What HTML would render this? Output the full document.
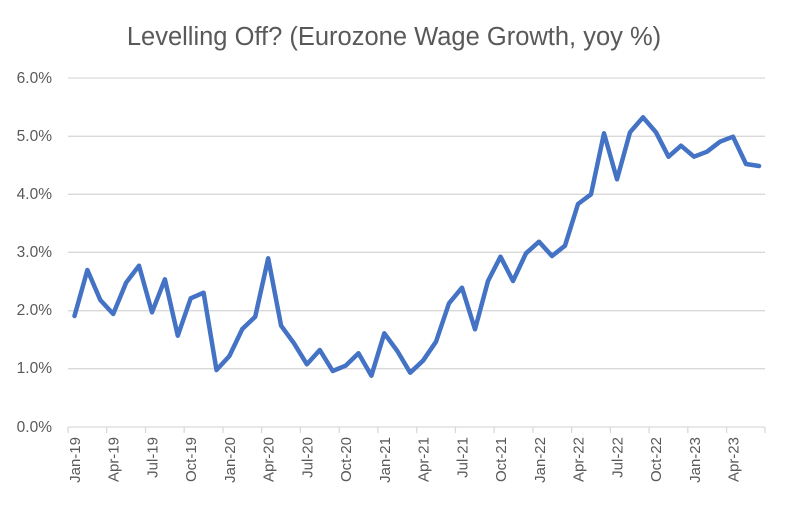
<!DOCTYPE html>
<html><head><meta charset="utf-8"><style>
body{margin:0;background:#fff}
svg{display:block;font-family:"Liberation Sans",Arial,sans-serif}
</style></head><body>
<svg width="788" height="505" viewBox="0 0 788 505">
<rect width="788" height="505" fill="#fff"/>
<text x="394" y="45" text-anchor="middle" font-size="25.5" fill="#595959">Levelling Off? (Eurozone Wage Growth, yoy %)</text>
<g stroke="#d9d9d9" stroke-width="1.3">
<line x1="68" y1="78" x2="765" y2="78"/>
<line x1="68" y1="136.3" x2="765" y2="136.3"/>
<line x1="68" y1="194.3" x2="765" y2="194.3"/>
<line x1="68" y1="252.3" x2="765" y2="252.3"/>
<line x1="68" y1="310.7" x2="765" y2="310.7"/>
<line x1="68" y1="368.7" x2="765" y2="368.7"/>
<line x1="68" y1="427" x2="765" y2="427"/>
</g>
<g font-size="15.5" fill="#595959" text-anchor="end">
<text x="52" y="83">6.0%</text>
<text x="52" y="141">5.0%</text>
<text x="52" y="199">4.0%</text>
<text x="52" y="257">3.0%</text>
<text x="52" y="315">2.0%</text>
<text x="52" y="373">1.0%</text>
<text x="52" y="432">0.0%</text>
</g>
<g font-size="15" fill="#595959" text-anchor="end">
<text transform="translate(80,437) rotate(-90)">Jan-19</text>
<text transform="translate(118.7,437) rotate(-90)">Apr-19</text>
<text transform="translate(157.5,437) rotate(-90)">Jul-19</text>
<text transform="translate(196.2,437) rotate(-90)">Oct-19</text>
<text transform="translate(235,437) rotate(-90)">Jan-20</text>
<text transform="translate(273.7,437) rotate(-90)">Apr-20</text>
<text transform="translate(312.4,437) rotate(-90)">Jul-20</text>
<text transform="translate(351.2,437) rotate(-90)">Oct-20</text>
<text transform="translate(389.9,437) rotate(-90)">Jan-21</text>
<text transform="translate(428.7,437) rotate(-90)">Apr-21</text>
<text transform="translate(467.4,437) rotate(-90)">Jul-21</text>
<text transform="translate(506.1,437) rotate(-90)">Oct-21</text>
<text transform="translate(544.9,437) rotate(-90)">Jan-22</text>
<text transform="translate(583.6,437) rotate(-90)">Apr-22</text>
<text transform="translate(622.4,437) rotate(-90)">Jul-22</text>
<text transform="translate(661.1,437) rotate(-90)">Oct-22</text>
<text transform="translate(699.8,437) rotate(-90)">Jan-23</text>
<text transform="translate(738.6,437) rotate(-90)">Apr-23</text>
</g>
<g stroke="#d9d9d9" stroke-width="1.3">
<line x1="68" y1="427" x2="68" y2="433"/><line x1="106.7" y1="427" x2="106.7" y2="433"/><line x1="145.5" y1="427" x2="145.5" y2="433"/><line x1="184.2" y1="427" x2="184.2" y2="433"/><line x1="223" y1="427" x2="223" y2="433"/><line x1="261.7" y1="427" x2="261.7" y2="433"/><line x1="300.4" y1="427" x2="300.4" y2="433"/><line x1="339.2" y1="427" x2="339.2" y2="433"/><line x1="377.9" y1="427" x2="377.9" y2="433"/><line x1="416.7" y1="427" x2="416.7" y2="433"/><line x1="455.4" y1="427" x2="455.4" y2="433"/><line x1="494.1" y1="427" x2="494.1" y2="433"/><line x1="532.9" y1="427" x2="532.9" y2="433"/><line x1="571.6" y1="427" x2="571.6" y2="433"/><line x1="610.4" y1="427" x2="610.4" y2="433"/><line x1="649.1" y1="427" x2="649.1" y2="433"/><line x1="687.8" y1="427" x2="687.8" y2="433"/><line x1="726.6" y1="427" x2="726.6" y2="433"/><line x1="765" y1="427" x2="765" y2="433"/>
</g>
<polyline fill="none" stroke="#4472c4" stroke-width="4.5" stroke-linejoin="round" stroke-linecap="round" points="
74.5,316 87.4,270 100.3,300 113.2,314 126.1,282.7 139,265.7 152,312.3 164.9,279.3 177.8,335.7 190.7,298.3 203.6,292.7 216.5,370 229.4,356 242.3,329 255.2,316.7 268.2,258.3 281.1,325.7 294,343.3 306.9,364.3 319.8,350 332.7,371 345.6,365.7 358.5,353.3 371.4,375.7 384.3,333.3 397.3,351 410.2,372.7 423,360.7 436,341.7 449,303.3 462,287.7 475,329.3 488,281 500.5,256.7 513,281 526,253.3 539,241.7 552,256 565,245.7 578,204 591,194.3 604,133.3 617,179.3 630,132.3 643,117.3 656,132.3 668.5,156.7 681,145.7 694,156.7 707,151.7 720,141.7 733,136.7 746,164 759,166"/>
</svg>
</body></html>
